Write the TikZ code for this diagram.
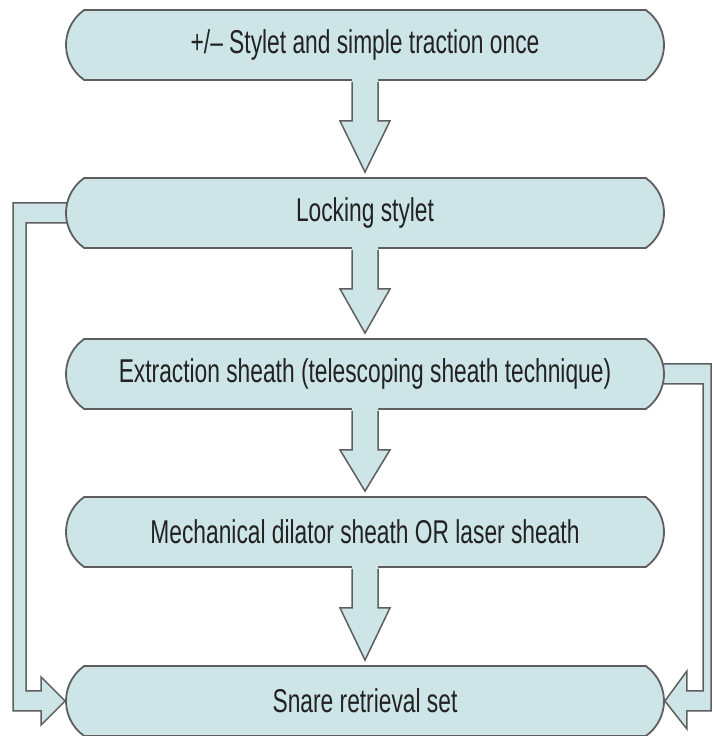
\documentclass[tikz,border=0pt]{standalone}
\usepackage{fontspec}
\setmainfont[FakeStretch=0.69]{Liberation Sans}
\usetikzlibrary{shapes.misc,calc}
\definecolor{boxfill}{HTML}{CDE5E7}
\definecolor{boxline}{HTML}{5E5E5E}
\definecolor{ink}{HTML}{222222}
\pgfdeclarelayer{bg}
\pgfsetlayers{bg,main}
\tikzset{
  pill/.style={rounded rectangle, rounded rectangle arc length=110,
    minimum width=598pt, minimum height=70pt, inner sep=0pt,
    fill=boxfill, draw=boxline, line width=1.8pt, text=ink,
    font=\fontsize{33}{38}\selectfont},
  blkfill/.style={fill=boxfill},
  blkline/.style={draw=boxline, line width=1.5pt, line join=miter},
}
% vertical block arrow from the bottom of one box to the top of the next
\newcommand\flowdown[2]{%
  \fill[blkfill] let \p1=(#1.south), \p2=(#2.north) in
    (\x1-13pt,\y1+2pt) -- (\x1-13pt,\y1-40pt) -- (\x1-25pt,\y1-40pt) -- (\x1,\y2+5pt)
    -- (\x1+25pt,\y1-40pt) -- (\x1+13pt,\y1-40pt) -- (\x1+13pt,\y1+2pt) -- cycle;
  \draw[blkline] let \p1=(#1.south), \p2=(#2.north) in
    (\x1-13pt,\y1-1pt) -- (\x1-13pt,\y1-40pt) -- (\x1-25pt,\y1-40pt) -- (\x1,\y2+5pt)
    -- (\x1+25pt,\y1-40pt) -- (\x1+13pt,\y1-40pt) -- (\x1+13pt,\y1-1pt);
}
\begin{document}
\begin{tikzpicture}[x=1pt,y=1pt]
  \useasboundingbox (0,0) rectangle (712,736);
  \clip (0,0) rectangle (712,736);

  \node[pill] (b1) at (365,691) {+/– Stylet and simple traction once};
  \node[pill] (b2) at (365,523) {Locking stylet};
  \node[pill] (b3) at (365,362) {Extraction sheath (telescoping sheath technique)};
  \node[pill] (b4) at (365,204) {Mechanical dilator sheath OR laser sheath};
  \node[pill] (b5) at (365,35) {Snare retrieval set};

  \flowdown{b1}{b2}
  \flowdown{b2}{b3}
  \flowdown{b3}{b4}
  \flowdown{b4}{b5}

  \begin{pgfonlayer}{bg}
    % loop from the locking stylet down to the snare set
    \fill[blkfill] let \p1=(b2.west), \p2=(b5.west) in
      (\x1+8pt,\y1+10pt) -- (13,\y1+10pt) -- (13,\y2-10pt) -- (\x2-24pt,\y2-10pt)
      -- (\x2-24pt,\y2-24pt) -- (\x2,\y2) -- (\x2-24pt,\y2+24pt) -- (\x2-24pt,\y2+10pt)
      -- (26,\y2+10pt) -- (26,\y1-10pt) -- (\x1+8pt,\y1-10pt) -- cycle;
    \draw[blkline] let \p1=(b2.west), \p2=(b5.west) in
      (\x1+8pt,\y1+10pt) -- (13,\y1+10pt) -- (13,\y2-10pt) -- (\x2-24pt,\y2-10pt)
      -- (\x2-24pt,\y2-24pt) -- (\x2,\y2) -- (\x2-24pt,\y2+24pt) -- (\x2-24pt,\y2+10pt)
      -- (26,\y2+10pt) -- (26,\y1-10pt) -- (\x1+8pt,\y1-10pt);
    % loop from the extraction sheath down to the snare set
    \fill[blkfill] let \p1=(b3.east), \p2=(b5.east) in
      (\x1-8pt,\y1+10pt) -- (711,\y1+10pt) -- (711,\y2-10pt) -- (\x2+22pt,\y2-10pt)
      -- (\x2+22pt,\y2-28pt) -- (\x2,\y2) -- (\x2+22pt,\y2+30pt) -- (\x2+22pt,\y2+10pt)
      -- (703,\y2+10pt) -- (703,\y1-10pt) -- (\x1-8pt,\y1-10pt) -- cycle;
    \draw[blkline] let \p1=(b3.east), \p2=(b5.east) in
      (\x1-8pt,\y1+10pt) -- (711,\y1+10pt) -- (711,\y2-10pt) -- (\x2+22pt,\y2-10pt)
      -- (\x2+22pt,\y2-28pt) -- (\x2,\y2) -- (\x2+22pt,\y2+30pt) -- (\x2+22pt,\y2+10pt)
      -- (703,\y2+10pt) -- (703,\y1-10pt) -- (\x1-8pt,\y1-10pt);
  \end{pgfonlayer}
\end{tikzpicture}
\end{document}
